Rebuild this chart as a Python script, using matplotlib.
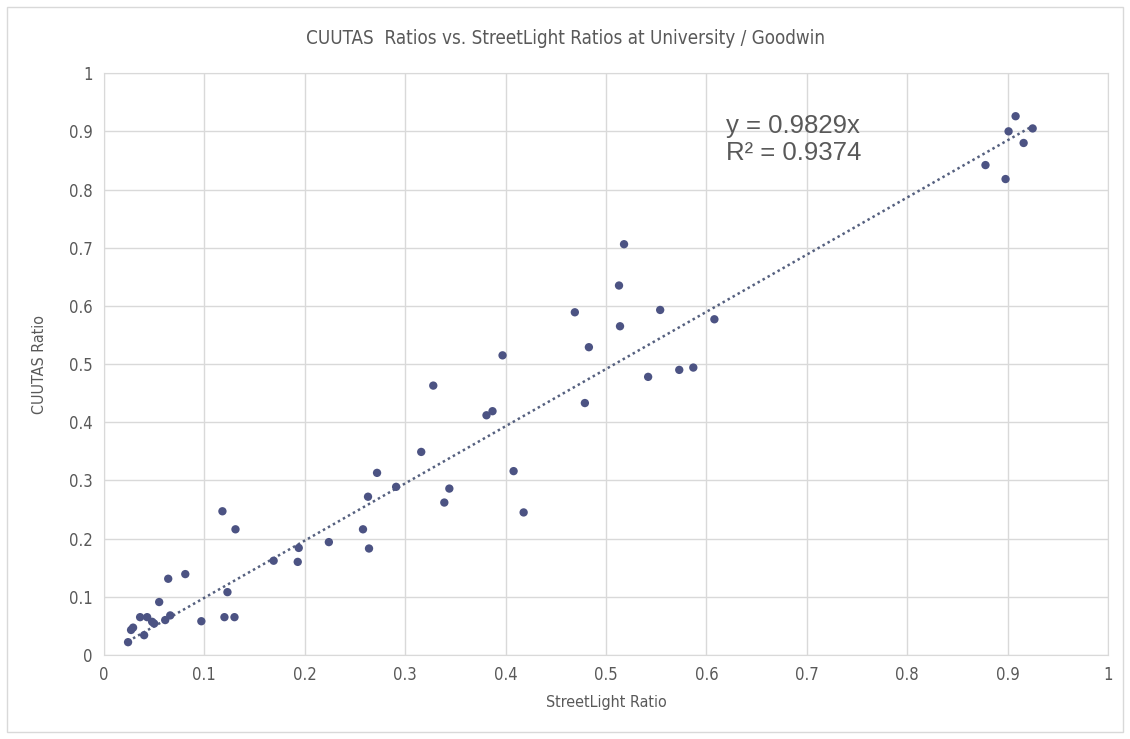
import matplotlib
matplotlib.use("Agg")
import matplotlib.pyplot as plt
import numpy as np

# StreetLight ratio (x) vs CUUTAS ratio (y)
streetlight = [0.908, 0.901, 0.925, 0.916, 0.878, 0.898,
               0.518, 0.513, 0.469, 0.554, 0.514, 0.608, 0.483, 0.397,
               0.542, 0.573, 0.587, 0.479, 0.381, 0.387,
               0.328, 0.316, 0.408, 0.272, 0.344, 0.291, 0.263, 0.339,
               0.418, 0.258, 0.264,
               0.118, 0.131, 0.194, 0.169, 0.193, 0.224, 0.081, 0.064,
               0.123, 0.055, 0.036, 0.043, 0.048, 0.050, 0.061, 0.066,
               0.097, 0.120, 0.130, 0.027, 0.029, 0.040, 0.024]
cuutas = [0.926, 0.900, 0.905, 0.880, 0.842, 0.818,
          0.706, 0.635, 0.589, 0.593, 0.565, 0.577, 0.529, 0.515,
          0.478, 0.490, 0.494, 0.433, 0.412, 0.419,
          0.463, 0.349, 0.316, 0.313, 0.286, 0.289, 0.272, 0.262,
          0.245, 0.216, 0.183,
          0.247, 0.216, 0.184, 0.162, 0.160, 0.194, 0.139, 0.131,
          0.108, 0.091, 0.065, 0.065, 0.057, 0.054, 0.060, 0.068,
          0.058, 0.065, 0.065, 0.043, 0.047, 0.034, 0.022]

slope = 0.9829
r2 = 0.9374
ticks = [0, 0.1, 0.2, 0.3, 0.4, 0.5, 0.6, 0.7, 0.8, 0.9, 1]
tick_labels = ["0", "0.1", "0.2", "0.3", "0.4", "0.5", "0.6", "0.7", "0.8", "0.9", "1"]

narrow = dict(family="DejaVu Sans", stretch="condensed")
grey_txt = "#595959"

fig = plt.figure(figsize=(11.3, 7.39), dpi=100)
ax = fig.add_axes([0.092, 0.1137, 0.8885, 0.7873])

# outer chart border
fig.patches.append(plt.Rectangle((0.006, 0.01), 0.988, 0.98, transform=fig.transFigure,
                                 fill=False, edgecolor="#d9d9d9", linewidth=1))

ax.grid(True, color="#d9d9d9", linewidth=1)
ax.set_axisbelow(True)

# trendline through origin
xs = np.array([min(streetlight), max(streetlight)])
ax.plot(xs, slope * xs, linestyle=(0, (1, 1.3)), color="#55607f", linewidth=1.8)

ax.scatter(streetlight, cuutas, s=36, color="#4c5383", zorder=3, edgecolors="none")

ax.set_xlim(0, 1)
ax.set_ylim(0, 1)
ax.set_xticks(ticks)
ax.set_xticklabels(tick_labels, fontsize=12, color=grey_txt, **narrow)
ax.set_yticks(ticks)
ax.set_yticklabels(tick_labels, fontsize=12, color=grey_txt, **narrow)
ax.tick_params(length=0, pad=8)
for sp in ax.spines.values():
    sp.set_color("#d9d9d9")

ax.set_xlabel("StreetLight Ratio", fontsize=11.5, color=grey_txt, labelpad=8, **narrow)
ax.set_ylabel("CUUTAS Ratio", fontsize=11.5, color=grey_txt, labelpad=16, **narrow)
fig.text(0.5, 0.948, "CUUTAS  Ratios vs. StreetLight Ratios at University / Goodwin",
         fontsize=13.5, color=grey_txt, ha="center", va="center", **narrow)

ax.text(0.62, 0.886, "y = %.4fx\nR\u00b2 = %.4f" % (slope, r2),
        fontsize=18.5, color=grey_txt, family=["Liberation Sans", "DejaVu Sans"],
        va="center", linespacing=1.2)

fig.savefig("out.png", dpi=100)
